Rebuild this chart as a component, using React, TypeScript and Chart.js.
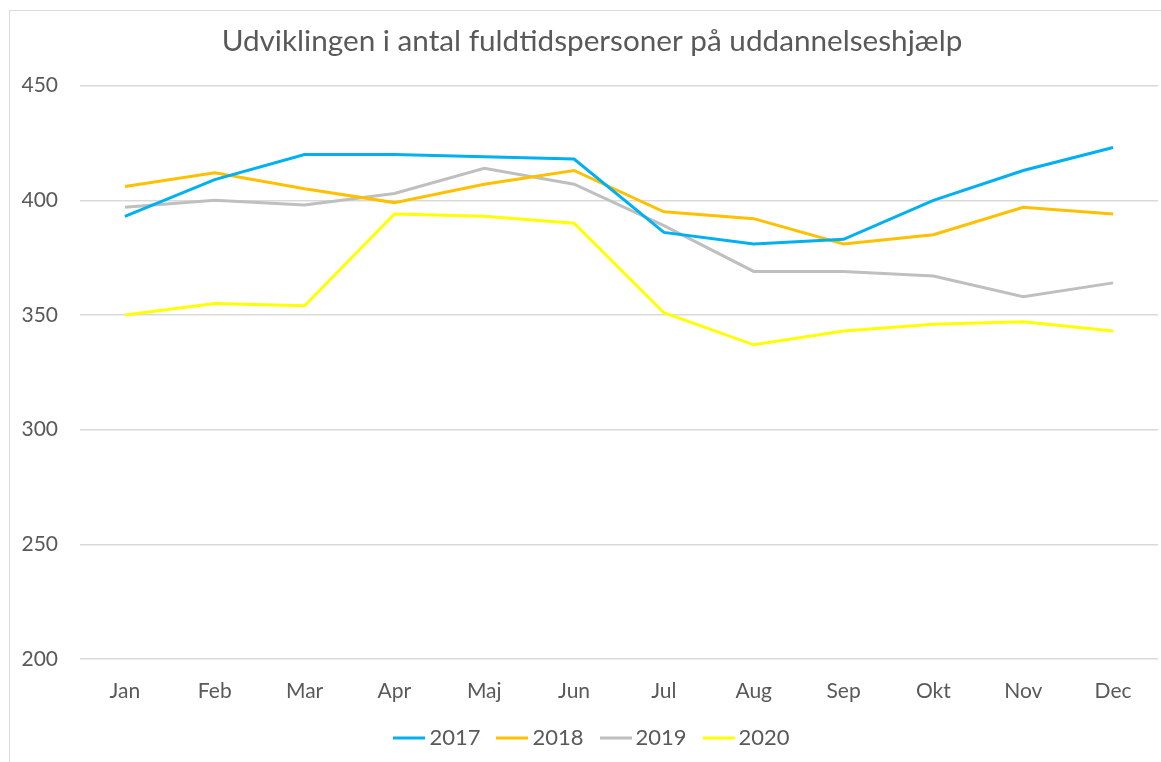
import React, { useEffect, useRef } from "react";
import { Chart, registerables } from "chart.js";

Chart.register(...registerables);

const title = "Udviklingen i antal fuldtidspersoner på uddannelseshjælp";
const months = ["Jan", "Feb", "Mar", "Apr", "Maj", "Jun", "Jul", "Aug", "Sep", "Okt", "Nov", "Dec"];
const seriesNames = ["2017", "2018", "2019", "2020"];
const values2017 = [393, 409, 420, 420, 419, 418, 386, 381, 383, 400, 413, 423];
const values2018 = [406, 412, 405, 399, 407, 413, 395, 392, 381, 385, 397, 394];
const values2019 = [397, 400, 398, 403, 414, 407, 389, 369, 369, 367, 358, 364];
const values2020 = [350, 355, 354, 394, 393, 390, 351, 337, 343, 346, 347, 343];
const seriesColors = ["#00B0F0", "#FFC000", "#BFBFBF", "#FFFF00"];
const yMin = 200;
const yMax = 450;
const yStep = 50;

const FONT = "Lato, 'Open Sans', sans-serif";
const TEXT = "#595959";

function legendLine(color: string): HTMLCanvasElement {
  const c = document.createElement("canvas");
  c.width = 32;
  c.height = 6;
  const g = c.getContext("2d")!;
  g.strokeStyle = color;
  g.lineWidth = 3;
  g.beginPath();
  g.moveTo(0, 3);
  g.lineTo(32, 3);
  g.stroke();
  return c;
}

const boxShift = {
  id: "boxShift",
  afterLayout(chart: any) {
    const lg = chart.legend;
    if (lg) {
      lg.left += 16;
      lg.right += 16;
    }
    const tb = chart.titleBlock;
    if (tb) {
      tb.left += 13;
      tb.right += 13;
    }
  },
};

export default function App() {
  const ref = useRef<HTMLCanvasElement | null>(null);

  useEffect(() => {
    document.body.style.overflow = "hidden";
    const all = [values2017, values2018, values2019, values2020];
    const chart = new Chart(ref.current!, {
      type: "line",
      data: {
        labels: months,
        datasets: all.map((vals, i) => ({
          label: seriesNames[i],
          data: vals,
          borderColor: seriesColors[i],
          backgroundColor: seriesColors[i],
          borderWidth: 3,
          pointRadius: 0,
          tension: 0,
          fill: false,
        })),
      },
      plugins: [boxShift],
      options: {
        responsive: false,
        animation: false,
        layout: { padding: { left: 0, right: 3, top: 0, bottom: 6 } },
        plugins: {
          title: {
            display: true,
            text: title,
            color: TEXT,
            font: { family: FONT, size: 29.7, weight: "normal" },
            padding: { top: 24, bottom: 26 },
          },
          legend: {
            position: "bottom",
            maxHeight: 52,
            labels: {
              color: TEXT,
              font: { family: FONT, size: 22 },
              usePointStyle: true,
              pointStyleWidth: 18,
              boxWidth: 18,
              padding: 23,
              generateLabels: (ch: any) =>
                ch.data.datasets.map((ds: any, i: number) => ({
                  text: ds.label,
                  fillStyle: seriesColors[i],
                  strokeStyle: seriesColors[i],
                  lineWidth: 0,
                  pointStyle: legendLine(seriesColors[i]),
                  datasetIndex: i,
                  hidden: false,
                  fontColor: TEXT,
                })),
            },
          },
          tooltip: { enabled: false },
        },
        scales: {
          x: {
            offset: true,
            afterFit: (s: any) => {
              s.height = 45;
            },
            grid: { display: false, drawTicks: false },
            border: { display: false },
            ticks: { color: TEXT, font: { family: FONT, size: 21 }, padding: 20 },
          },
          y: {
            min: yMin,
            max: yMax,
            afterFit: (s: any) => {
              s.width = 80;
            },
            grid: { color: "#D9D9D9", lineWidth: 1.5, drawTicks: false },
            border: { display: false },
            ticks: { stepSize: yStep, color: TEXT, font: { family: FONT, size: 21 }, padding: 22 },
          },
        },
      },
    });
    return () => chart.destroy();
  }, []);

  return (
    <div style={{ position: "fixed", left: 0, top: 0, width: 1161, height: 762, background: "#fff" }}>
      <div
        style={{
          position: "absolute",
          left: 9,
          top: 10,
          width: 1200,
          height: 800,
          border: "1.5px solid #DCDCDC",
          boxSizing: "border-box",
        }}
      />
      <canvas ref={ref} width={1161} height={762} style={{ position: "absolute", left: 0, top: 0 }} />
    </div>
  );
}
